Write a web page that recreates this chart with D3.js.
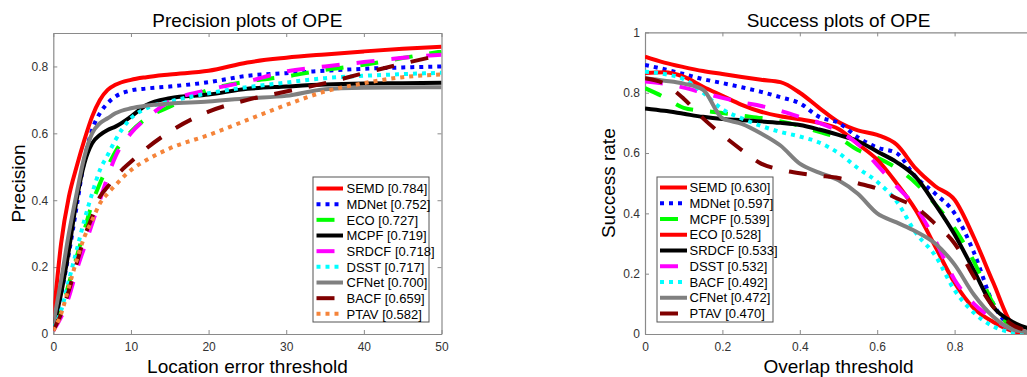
<!DOCTYPE html>
<html><head><meta charset="utf-8">
<script src="https://cdn.jsdelivr.net/npm/d3@7"></script>
<style>
html,body{margin:0;padding:0;background:#fff;overflow:hidden}
svg{display:block;font-family:"Liberation Sans",Arial,Helvetica,sans-serif}
</style></head>
<body><svg id="chart" width="1027" height="377"></svg>
<script>
// ---------- DATA ----------
const precThresholds = [0,1,2,3,4,5,6,7,8,10,12,15,20,25,30,35,40,45,50];
const precNames = ["SEMD [0.784]","MDNet [0.752]","ECO [0.727]","MCPF [0.719]","SRDCF [0.718]","DSST [0.717]","CFNet [0.700]","BACF [0.659]","PTAV [0.582]"];
const precSEMD  = [0.04,0.27,0.41,0.50,0.58,0.65,0.70,0.73,0.745,0.76,0.768,0.776,0.787,0.812,0.826,0.836,0.845,0.853,0.859];
const precMDNet = [0.02,0.12,0.24,0.38,0.52,0.61,0.66,0.69,0.71,0.728,0.734,0.74,0.753,0.772,0.78,0.787,0.793,0.797,0.80];
const precECO   = [0.02,0.07,0.15,0.23,0.31,0.39,0.45,0.50,0.545,0.605,0.645,0.68,0.73,0.755,0.77,0.79,0.805,0.825,0.845];
const precMCPF  = [0.02,0.12,0.25,0.40,0.51,0.57,0.595,0.61,0.62,0.65,0.685,0.705,0.716,0.733,0.74,0.746,0.749,0.75,0.751];
const precSRDCF = [0.01,0.05,0.11,0.19,0.26,0.33,0.40,0.47,0.53,0.60,0.645,0.695,0.73,0.755,0.785,0.80,0.813,0.826,0.835];
const precDSST  = [0.02,0.07,0.16,0.25,0.34,0.42,0.49,0.535,0.58,0.645,0.675,0.695,0.72,0.738,0.752,0.765,0.772,0.777,0.781];
const precCFNet = [0.03,0.16,0.30,0.42,0.53,0.60,0.63,0.645,0.66,0.675,0.683,0.689,0.695,0.705,0.712,0.732,0.736,0.737,0.738];
const precBACF  = [0.01,0.06,0.13,0.21,0.29,0.35,0.41,0.44,0.47,0.515,0.555,0.605,0.665,0.70,0.725,0.75,0.78,0.808,0.835];
const precPTAV  = [0.01,0.06,0.14,0.22,0.29,0.34,0.39,0.42,0.445,0.49,0.52,0.555,0.595,0.64,0.685,0.725,0.75,0.768,0.776];
const precXTicks = [0,10,20,30,40,50];
const precYTicks = [0,0.2,0.4,0.6,0.8];

const succThresholds = [0,0.05,0.1,0.15,0.2,0.25,0.3,0.35,0.4,0.45,0.5,0.55,0.6,0.65,0.7,0.75,0.8,0.85,0.9,0.95,1.0];
const succNames = ["SEMD [0.630]","MDNet [0.597]","MCPF [0.539]","ECO [0.528]","SRDCF [0.533]","DSST [0.532]","BACF [0.492]","CFNet [0.472]","PTAV [0.470]"];
const succSEMD  = [0.92,0.90,0.885,0.872,0.862,0.852,0.843,0.835,0.80,0.75,0.703,0.675,0.66,0.628,0.548,0.49,0.445,0.32,0.17,0.03,0.0];
const succMDNet = [0.892,0.878,0.862,0.845,0.832,0.818,0.803,0.785,0.765,0.72,0.70,0.652,0.618,0.60,0.52,0.465,0.40,0.27,0.10,0.02,0.0];
const succMCPF  = [0.815,0.785,0.75,0.74,0.733,0.724,0.716,0.705,0.69,0.67,0.65,0.61,0.585,0.55,0.50,0.43,0.35,0.24,0.10,0.02,0.0];
const succECO   = [0.865,0.868,0.853,0.82,0.79,0.76,0.737,0.722,0.712,0.70,0.68,0.63,0.578,0.50,0.41,0.29,0.17,0.085,0.04,0.01,0.0];
const succSRDCF = [0.748,0.74,0.73,0.72,0.713,0.709,0.705,0.70,0.693,0.678,0.66,0.64,0.605,0.57,0.52,0.43,0.33,0.21,0.09,0.04,0.015];
const succDSST  = [0.837,0.83,0.817,0.80,0.783,0.768,0.756,0.74,0.72,0.70,0.672,0.63,0.56,0.49,0.42,0.31,0.18,0.10,0.05,0.015,0.0];
const succBACF  = [0.87,0.862,0.845,0.80,0.745,0.715,0.69,0.67,0.655,0.635,0.60,0.55,0.505,0.44,0.335,0.26,0.145,0.07,0.025,0.005,0.0];
const succCFNet = [0.848,0.84,0.83,0.81,0.715,0.697,0.665,0.625,0.565,0.535,0.51,0.465,0.40,0.37,0.34,0.30,0.23,0.13,0.057,0.015,0.005];
const succPTAV  = [0.848,0.83,0.78,0.715,0.66,0.61,0.565,0.545,0.533,0.525,0.517,0.50,0.482,0.45,0.42,0.365,0.30,0.19,0.09,0.03,0.01];
const succXTicks = [0,0.2,0.4,0.6,0.8];
const succYTicks = [0,0.2,0.4,0.6,0.8,1];

// ---------- STYLES ----------
const DOT = "4,5", DASH = "18,17";
const precStyles = [
  {c:"#ff0000",d:null},{c:"#0000ff",d:DOT},{c:"#00ff00",d:DASH},{c:"#000000",d:null},
  {c:"#ff00ff",d:DASH},{c:"#00ffff",d:DOT},{c:"#808080",d:null},{c:"#800000",d:DASH},{c:"#f5843a",d:DOT}];
const succStyles = [
  {c:"#ff0000",d:null},{c:"#0000ff",d:DOT},{c:"#00ff00",d:DASH},{c:"#ff0000",d:null},
  {c:"#000000",d:null},{c:"#ff00ff",d:DASH},{c:"#00ffff",d:DOT},{c:"#808080",d:null},{c:"#800000",d:DASH}];

const svg = d3.select("#chart");
const AX = "#8a8a8a", TXT = "#333";

function panel(opt){
  const g = svg.append("g");
  const x = d3.scaleLinear().domain(opt.xDomain).range([opt.left, opt.right]);
  const y = d3.scaleLinear().domain(opt.yDomain).range([opt.bottom, opt.top]);
  const fmt = d => d3.format("~g")(d);
  const ax = [
    g.append("g").attr("transform",`translate(0,${opt.bottom})`).call(d3.axisBottom(x).tickValues(opt.xTicks).tickFormat(fmt).tickSizeInner(-4).tickSizeOuter(0).tickPadding(8)),
    g.append("g").attr("transform",`translate(0,${opt.top})`).call(d3.axisTop(x).tickValues(opt.xTicks).tickFormat("").tickSizeInner(-4).tickSizeOuter(0)),
    g.append("g").attr("transform",`translate(${opt.left},0)`).call(d3.axisLeft(y).tickValues(opt.yTicks).tickFormat(fmt).tickSizeInner(-4).tickSizeOuter(0).tickPadding(5)),
    g.append("g").attr("transform",`translate(${opt.right},0)`).call(d3.axisRight(y).tickValues(opt.yTicks).tickFormat("").tickSizeInner(-4).tickSizeOuter(0))
  ];
  ax.forEach(a=>{
    a.selectAll("path.domain").attr("stroke",AX).attr("stroke-width",1.2);
    a.selectAll(".tick line").attr("stroke",AX);
    a.selectAll(".tick text").attr("fill",TXT).attr("font-size",12).attr("font-family","Liberation Sans, Arial, sans-serif");
  });
  const cid = "clip"+opt.id;
  svg.append("defs").append("clipPath").attr("id",cid).append("rect")
    .attr("x",opt.left).attr("y",opt.top).attr("width",opt.right-opt.left).attr("height",opt.bottom-opt.top);
  const line = d3.line().x(d=>x(d[0])).y(d=>y(d[1])).curve(d3.curveMonotoneX);
  const lg = g.append("g").attr("clip-path",`url(#${cid})`);
  opt.series.forEach((s,i)=>{
    const st = opt.styles[i];
    lg.append("path").datum(opt.xs.map((v,k)=>[v,s[k]]))
      .attr("d",line).attr("fill","none").attr("stroke",st.c).attr("stroke-width",4)
      .attr("stroke-dasharray",st.d).attr("stroke-linejoin","round");
  });
  g.append("text").attr("x",(opt.left+opt.right)/2).attr("y",27).attr("text-anchor","middle")
    .attr("font-size",19).attr("fill","#000").text(opt.title);
  g.append("text").attr("x",(opt.left+opt.right)/2).attr("y",373).attr("text-anchor","middle")
    .attr("font-size",19).attr("fill","#000").text(opt.xLabel);
  g.append("text").attr("transform",`translate(${opt.yLabelX},${(opt.top+opt.bottom)/2}) rotate(-90)`)
    .attr("text-anchor","middle").attr("dy","0.35em").attr("font-size",19).attr("fill","#000").text(opt.yLabel);
  const L = opt.legend;
  const leg = g.append("g");
  leg.append("rect").attr("x",L.x).attr("y",L.y).attr("width",L.w).attr("height",L.h)
    .attr("fill","#fff").attr("stroke","#555").attr("stroke-width",1);
  opt.names.forEach((n,i)=>{
    const st = opt.styles[i];
    const yy = L.y0 + i*L.step;
    leg.append("line").attr("x1",L.lx1).attr("x2",L.lx2).attr("y1",yy).attr("y2",yy)
      .attr("stroke",st.c).attr("stroke-width",4).attr("stroke-dasharray",st.d);
    leg.append("text").attr("x",L.tx).attr("y",yy).attr("dy","0.36em").attr("font-size",13)
      .attr("fill","#000").text(n);
  });
}

panel({id:"p", left:53.3, right:441.5, top:33, bottom:334, xDomain:[0,50], yDomain:[0,0.9],
  xTicks:precXTicks, yTicks:precYTicks, xs:precThresholds,
  series:[precSEMD,precMDNet,precECO,precMCPF,precSRDCF,precDSST,precCFNet,precBACF,precPTAV],
  styles:precStyles, names:precNames,
  title:"Precision plots of OPE", xLabel:"Location error threshold", yLabel:"Precision", yLabelX:18,
  legend:{x:313,y:177,w:116,h:145,y0:188.5,step:15.67,lx1:316.5,lx2:343,tx:346.5}});

panel({id:"s", left:645, right:1032, top:32.4, bottom:334, xDomain:[0,1], yDomain:[0,1],
  xTicks:succXTicks, yTicks:succYTicks, xs:succThresholds,
  series:[succSEMD,succMDNet,succMCPF,succECO,succSRDCF,succDSST,succBACF,succCFNet,succPTAV],
  styles:succStyles, names:succNames,
  title:"Success plots of OPE", xLabel:"Overlap threshold", yLabel:"Success rate", yLabelX:608,
  legend:{x:657,y:177,w:116,h:145,y0:187.5,step:15.75,lx1:660,lx2:687,tx:689.5}});
</script></body></html>
